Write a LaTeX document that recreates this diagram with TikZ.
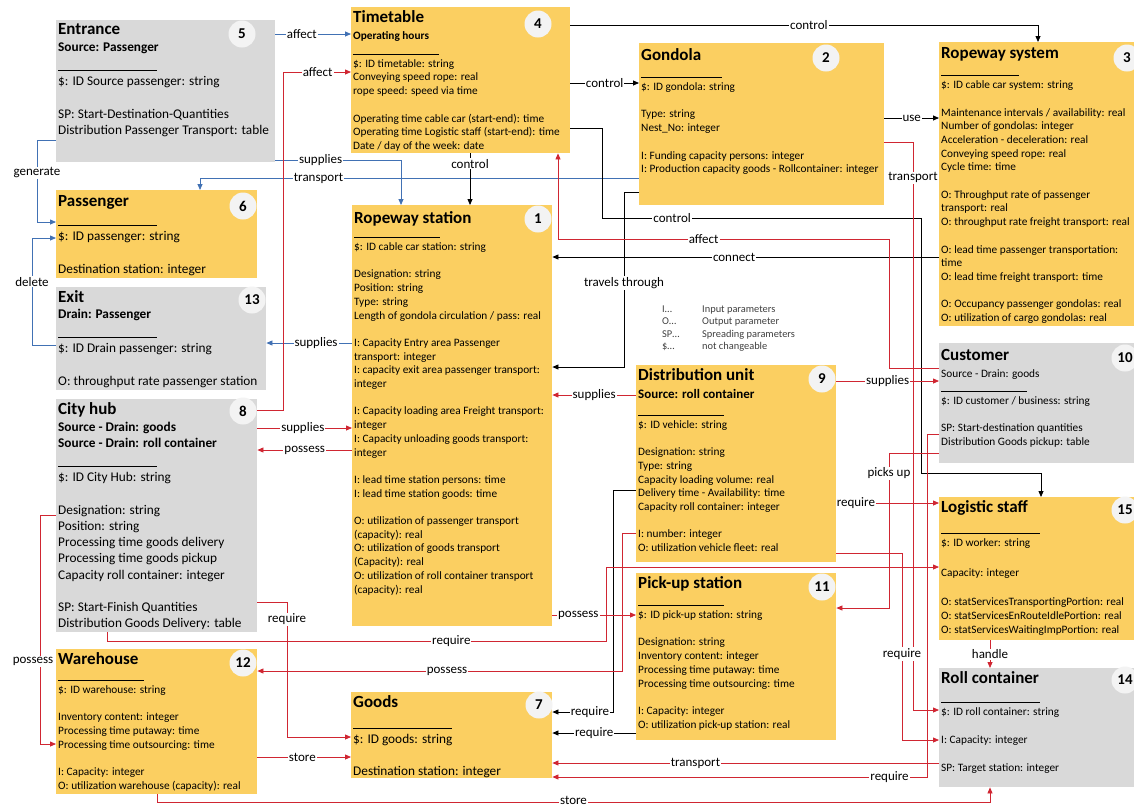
\documentclass[tikz,border=0pt]{standalone}
\usepackage{fontspec}
\setmainfont{Carlito}
\usetikzlibrary{arrows.meta}
\definecolor{yel}{RGB}{251,207,97}
\definecolor{gry}{RGB}{217,217,217}
\definecolor{cir}{RGB}{243,243,243}
\definecolor{lnred}{RGB}{208,38,50}
\definecolor{lnblue}{RGB}{65,113,180}
\newcommand{\hd}[1]{{\fontsize{17}{17}\selectfont\bfseries #1}}
\newcommand{\sepl}[1][86pt]{\rule[-1pt]{#1}{0.6pt}}

\begin{document}
\begin{tikzpicture}[x=1pt, y=-1pt,
  ybox/.style={anchor=north west, fill=yel, inner sep=0pt},
  gbox/.style={anchor=north west, fill=gry, inner sep=0pt},
  txtA/.style={anchor=north west, align=left, inner xsep=2pt, inner ysep=3pt, font=\fontsize{11.3}{13.7}\selectfont},
  txtB/.style={txtA, font=\fontsize{13.3}{16.2}\selectfont},
  numc/.style={circle, fill=cir, inner sep=0pt, minimum size=27pt, font=\fontsize{15}{15}\selectfont\bfseries},
  lbl/.style={fill=white, inner sep=1pt, font=\fontsize{13}{13}\selectfont},
  leg/.style={anchor=base west, inner sep=0pt, text=black!75, font=\fontsize{10.4}{12}\selectfont},
  con/.style={line width=0.8pt, -{Triangle[length=6pt,width=5pt]}},
  bl/.style={con, draw=lnblue},
  bk/.style={con, draw=black},
  rd/.style={con, draw=lnred}]
  \useasboundingbox (0,0) rectangle (1134,807);
  \fill[white] (0,0) rectangle (1134,807);
  \clip (0,0) rectangle (1134,807);

  \node[gbox, minimum width=219pt, minimum height=142pt] (ent) at (56,20) {};
  \node[txtB] (entT) at (ent.north west) {\hd{Entrance}\\[1pt]
    \textbf{Source: Passenger}\\[2pt]
    \sepl[99pt]\\
    \$: ID Source passenger: string\\[16.2pt]
    SP: Start-Destination-Quantities\\
    Distribution Passenger Transport: table};
  \node[numc] (entN) at (242,34) {5};

  \node[ybox, minimum width=219pt, minimum height=146pt] (tt) at (351,7) {};
  \node[txtA] (ttT) at (tt.north west) {\hd{Timetable}\\[4pt]
    \textbf{Operating hours}\\
    \sepl\\
    \$: ID timetable: string\\
    Conveying speed rope: real\\
    rope speed: speed via time\\[13.7pt]
    Operating time cable car (start-end): time\\
    Operating time Logistic staff (start-end): time\\
    Date / day of the week: date};
  \node[numc] (ttN) at (538,24) {4};

  \node[ybox, minimum width=245pt, minimum height=162pt] (gon) at (639,43) {};
  \node[txtA] (gonT) at ([yshift=-2pt]gon.north west) {\hd{Gondola}\\[3pt]
    \sepl[81pt]\\
    \$: ID gondola: string\\[13.7pt]
    Type: string\\
    Nest\_No: integer\\[13.7pt]
    I: Funding capacity persons: integer\\
    I: Production capacity goods - Rollcontainer: integer};
  \node[numc] (gonN) at (826,58) {2};

  \node[ybox, minimum width=200pt, minimum height=284pt] (rws) at (939,42) {};
  \node[txtA] (rwsT) at ([yshift=-2pt]rws.north west) {\hd{Ropeway system}\\[3pt]
    \sepl[78pt]\\
    \$: ID cable car system: string\\[13.7pt]
    Maintenance intervals / availability: real\\
    Number of gondolas: integer\\
    Acceleration - deceleration: real\\
    Conveying speed rope: real\\
    Cycle time: time\\[13.7pt]
    O: Throughput rate of passenger\\
    transport: real\\
    O: throughput rate freight transport: real\\[13.7pt]
    O: lead time passenger transportation:\\
    time\\
    O: lead time freight transport: time\\[13.7pt]
    O: Occupancy passenger gondolas: real\\
    O: utilization of cargo gondolas: real};
  \node[numc] (rwsN) at (1127,58) {3};

  \node[ybox, minimum width=200pt, minimum height=421pt] (stat) at (352,205) {};
  \node[txtA] (statT) at ([yshift=-3pt]stat.north west) {\hd{Ropeway station}\\
    \sepl\\
    \$: ID cable car station: string\\[13.7pt]
    Designation: string\\
    Position: string\\
    Type: string\\
    Length of gondola circulation / pass: real\\[13.7pt]
    I: Capacity Entry area Passenger\\
    transport: integer\\
    I: capacity exit area passenger transport:\\
    integer\\[13.7pt]
    I: Capacity loading area Freight transport:\\
    integer\\
    I: Capacity unloading goods transport:\\
    integer\\[13.7pt]
    I: lead time station persons: time\\
    I: lead time station goods: time\\[13.7pt]
    O: utilization of passenger transport\\
    (capacity): real\\
    O: utilization of goods transport\\
    (Capacity): real\\
    O: utilization of roll container transport\\
    (capacity): real};
  \node[numc] (statN) at (538,219) {1};

  \node[ybox, minimum width=201pt, minimum height=88pt] (pas) at (56,190) {};
  \node[txtB] (pasT) at ([yshift=-2pt]pas.north west) {\hd{Passenger}\\[2pt]
    \sepl[99pt]\\
    \$: ID passenger: string\\[16.2pt]
    Destination station: integer};
  \node[numc] (pasN) at (243,206) {6};

  \node[gbox, minimum width=210pt, minimum height=103pt] (exit) at (56,287) {};
  \node[txtB] (exitT) at (exit.north west) {\hd{Exit}\\
    \textbf{Drain: Passenger}\\[2pt]
    \sepl[99pt]\\
    \$: ID Drain passenger: string\\[16.2pt]
    O: throughput rate passenger station};
  \node[numc] (exitN) at (252,300) {13};

  \node[gbox, minimum width=201pt, minimum height=233pt] (hub) at (56,399) {};
  \node[txtB] (hubT) at (hub.north west) {\hd{City hub}\\[1pt]
    \textbf{Source - Drain: goods}\\
    \textbf{Source - Drain: roll container}\\[2pt]
    \sepl[99pt]\\
    \$: ID City Hub: string\\[16.2pt]
    Designation: string\\
    Position: string\\
    Processing time goods delivery\\
    Processing time goods pickup\\
    Capacity roll container: integer\\[16.2pt]
    SP: Start-Finish Quantities\\
    Distribution Goods Delivery: table};
  \node[numc] (hubN) at (243,411) {8};

  \node[ybox, minimum width=201pt, minimum height=145pt] (wh) at (56,649) {};
  \node[txtA] (whT) at (wh.north west) {\hd{Warehouse}\\[2pt]
    \sepl\\
    \$: ID warehouse: string\\[13.7pt]
    Inventory content: integer\\
    Processing time putaway: time\\
    Processing time outsourcing: time\\[13.7pt]
    I: Capacity: integer\\
    O: utilization warehouse (capacity): real};
  \node[numc] (whN) at (243,663) {12};

  \node[ybox, minimum width=201pt, minimum height=86pt] (goods) at (351,692) {};
  \node[txtB] (goodsT) at (goods.north west) {\hd{Goods}\\[4pt]
    \sepl[99pt]\\
    \$: ID goods: string\\[16.2pt]
    Destination station: integer};
  \node[numc] (goodsN) at (539,705) {7};

  \node[ybox, minimum width=200pt, minimum height=197pt] (dist) at (636,365) {};
  \node[txtA] (distT) at (dist.north west) {\hd{Distribution unit}\\[5pt]
    {\fontsize{13}{15}\selectfont\bfseries Source: roll container}\\[2pt]
    \sepl\\
    \$: ID vehicle: string\\[13.7pt]
    Designation: string\\
    Type: string\\
    Capacity loading volume: real\\
    Delivery time - Availability: time\\
    Capacity roll container: integer\\[13.7pt]
    I: number: integer\\
    O: utilization vehicle fleet: real};
  \node[numc] (distN) at (822,379) {9};

  \node[ybox, minimum width=200pt, minimum height=167pt] (pick) at (636,573) {};
  \node[txtA] (pickT) at (pick.north west) {\hd{Pick-up station}\\[3pt]
    \sepl\\
    \$: ID pick-up station: string\\[13.7pt]
    Designation: string\\
    Inventory content: integer\\
    Processing time putaway: time\\
    Processing time outsourcing: time\\[13.7pt]
    I: Capacity: integer\\
    O: utilization pick-up station: real};
  \node[numc] (pickN) at (822,587) {11};

  \node[gbox, minimum width=200pt, minimum height=120pt] (cust) at (939,343) {};
  \node[txtA] (custT) at ([yshift=-3pt]cust.north west) {\hd{Customer}\\[3pt]
    Source - Drain: goods\\
    \sepl\\
    \$: ID customer / business: string\\[13.7pt]
    SP: Start-destination quantities\\
    Distribution Goods pickup: table};
  \node[numc] (custN) at (1125,358) {10};

  \node[ybox, minimum width=200pt, minimum height=143pt] (log) at (939,497) {};
  \node[txtA] (logT) at (log.north west) {\hd{Logistic staff}\\[7pt]
    \sepl[99pt]\\
    \$: ID worker: string\\[16pt]
    Capacity: integer\\[16pt]
    O: statServicesTransportingPortion: real\\
    O: statServicesEnRouteIdlePortion: real\\
    O: statServicesWaitingImpPortion: real};
  \node[numc] (logN) at (1125,510) {15};

  \node[gbox, minimum width=200pt, minimum height=119pt] (roll) at (939,668) {};
  \node[txtA] (rollT) at (roll.north west) {\hd{Roll container}\\[5pt]
    \sepl[99pt]\\
    \$: ID roll container: string\\[14.5pt]
    I: Capacity: integer\\[14.5pt]
    SP: Target station: integer};
  \node[numc] (rollN) at (1125,680) {14};

  \foreach \k/\v [count=\i] in {I/Input parameters, O/Output parameter, SP/Spreading parameters, \$/not changeable} {
    \node[leg] (key\i) at (662,299.5+12.6*\i) {\k\ldots};
    \node[leg] (val\i) at (702,299.5+12.6*\i) {\v};
  }

  \draw[bl] (ent.east |- 0,34) -- node[lbl,pos=0.35]{affect} (tt.west |- 0,34);
  \draw[bl] (ent.east |- 0,160) -- node[lbl,pos=0.36]{supplies} (401,160) -- (401,0 |- stat.north);
  \draw[bl] (gon.west |- 0,178) -- node[lbl,pos=0.73]{transport} (200,178) -- (200,0 |- pas.north);
  \draw[bl] (ent.west |- 0,140) -- (37,140) -- node[lbl,pos=0.4]{generate} (37,222) -- (pas.west |- 0,222);
  \draw[bl] (exit.west |- 0,345) -- (32,345) -- node[lbl,pos=0.59]{delete} (32,238) -- (pas.west |- 0,238);
  \draw[bl] (stat.west |- 0,343) -- node[lbl,pos=0.42]{supplies} (exit.east |- 0,343);

  \draw[bk] (tt.east |- 0,25) -- node[lbl,pos=0.51]{control} (1038,25) -- (1038,0 |- rws.north);
  \draw[bk] (tt.east |- 0,83) -- node[lbl]{control} (gon.west |- 0,83);
  \draw[bk] (470,0 |- tt.south) -- node[lbl,pos=0.2]{control} (470,0 |- stat.north);
  \draw[bk] (gon.east |- 0,118) -- node[lbl]{use} (rws.west |- 0,118);
  \draw[bk] (tt.east |- 0,128) -- (602,128) -- (602,218) -- node[lbl,pos=0.22]{control} (921,218) -- (921,473) -- (1041,473) -- (1041,0 |- log.north);
  \draw[bk] (rws.west |- 0,257) -- node[lbl,pos=0.53]{connect} (stat.east |- 0,257);
  \draw[bk] (gon.west |- 0,192) -- (624,192) -- node[lbl,pos=0.52]{travels through} (624,367) -- (stat.east |- 0,367);
  \draw[bk] (dist.west |- 0,490) -- (613,490) -- (613,712) -- node[lbl,pos=0.38]{require} (goods.east |- 0,712);
  \draw[bk] (pick.west |- 0,733) -- node[lbl]{require} (goods.east |- 0,733);

  \draw[rd] (hub.east |- 0,410) -- (283,410) -- (283,72) -- node[lbl,pos=0.51]{affect} (tt.west |- 0,72);
  \draw[rd] (hub.east |- 0,428) -- node[lbl,pos=0.48]{supplies} (stat.west |- 0,428);
  \draw[rd] (stat.west |- 0,450) -- node[lbl]{possess} (hub.east |- 0,450);
  \draw[rd] (hub.east |- 0,602) -- (287,602) -- node[lbl,pos=0.13]{require} (287,737) -- (goods.west |- 0,737);
  \draw[rd] (hub.west |- 0,515) -- (40,515) -- node[lbl,pos=0.64,xshift=-7pt]{possess} (40,744) -- (wh.west |- 0,744);
  \draw[rd] (107,0 |- hub.south) -- (107,641) -- node[lbl,pos=0.69]{require} (606,641) -- (606,567) -- (log.west |- 0,567);
  \draw[rd] (dist.west |- 0,533) -- (622,533) -- (622,671) -- node[lbl,pos=0.48]{possess} (wh.east |- 0,671);
  \draw[rd] (wh.east |- 0,757) -- node[lbl,pos=0.48]{store} (goods.west |- 0,757);
  \draw[rd] (157,0 |- wh.south) -- (157,802) -- node[lbl,pos=0.5,yshift=1.5pt,inner ysep=0pt]{store} (990,802) -- (990,0 |- roll.south);
  \draw[rd] (dist.west |- 0,395) -- node[lbl]{supplies} (stat.east |- 0,395);
  \draw[rd] (stat.east |- 0,615) -- node[lbl,pos=0.31]{possess} (pick.west |- 0,615);
  \draw[rd] (cust.west |- 0,368) -- (889,368) -- (889,239) -- node[lbl,pos=0.56]{affect} (558,239) -- (558,0 |- tt.south);
  \draw[rd] (dist.east |- 0,381) -- node[lbl]{supplies} (cust.west |- 0,381);
  \draw[rd] (cust.west |- 0,453) -- (889,453) -- node[lbl,pos=0.13]{picks up} (889,608) -- (pick.east |- 0,608);
  \draw[rd] (dist.east |- 0,503) -- node[lbl,pos=0.19]{require} (log.west |- 0,503);
  \draw[rd] (cust.west |- 0,434) -- (927,434) -- (927,777) -- node[lbl,pos=0.1]{require} (goods.east |- 0,777);
  \draw[rd] (gon.east |- 0,142) -- (913,142) -- node[lbl,pos=0.063]{transport} (913,710) -- (roll.west |- 0,710);
  \draw[rd] (dist.east |- 0,553) -- (902,553) -- node[lbl,pos=0.54]{require} (902,740) -- (roll.west |- 0,740);
  \draw[rd] (roll.west |- 0,763) -- node[lbl,pos=0.63]{transport} (goods.east |- 0,763);
  \draw[rd] (990,0 |- log.south) -- node[lbl]{handle} (990,0 |- roll.north);
\end{tikzpicture}
\end{document}
